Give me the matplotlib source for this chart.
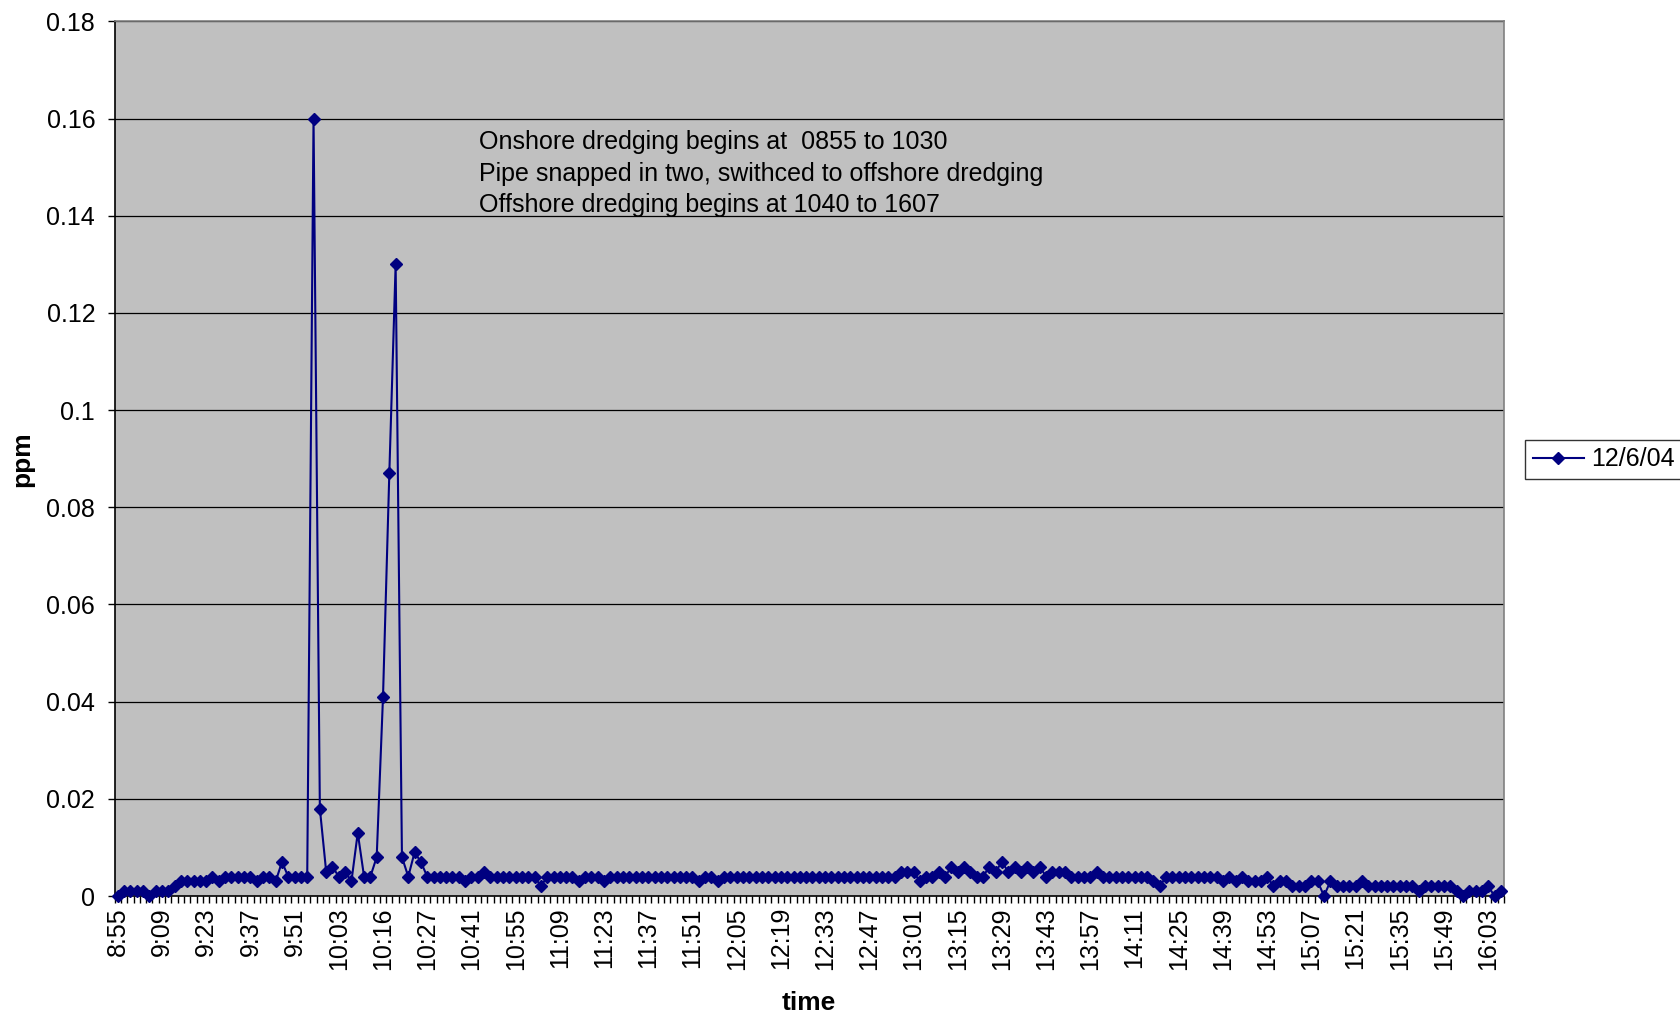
import matplotlib
matplotlib.use("Agg")
import matplotlib.pyplot as plt
import numpy as np

plt.rcParams['font.family'] = ['Liberation Sans', 'DejaVu Sans']

# Category tick labels (one label every 7 samples)
tick_labels = ["8:55", "9:09", "9:23", "9:37", "9:51", "10:03", "10:16", "10:27",
               "10:41", "10:55", "11:09", "11:23", "11:37", "11:51", "12:05", "12:19",
               "12:33", "12:47", "13:01", "13:15", "13:29", "13:43", "13:57", "14:11",
               "14:25", "14:39", "14:53", "15:07", "15:21", "15:35", "15:49", "16:03"]
label_step = 7

# ppm readings, 12/6/04
ppm = [
    0, 0.001, 0.001, 0.001, 0.001, 0, 0.001, 0.001, 0.001, 0.002,
    0.003, 0.003, 0.003, 0.003, 0.003, 0.004, 0.003, 0.004, 0.004, 0.004,
    0.004, 0.004, 0.003, 0.004, 0.004, 0.003, 0.007, 0.004, 0.004, 0.004,
    0.004, 0.16, 0.018, 0.005, 0.006, 0.004, 0.005, 0.003, 0.013, 0.004,
    0.004, 0.008, 0.041, 0.087, 0.13, 0.008, 0.004, 0.009, 0.007, 0.004,
    0.004, 0.004, 0.004, 0.004, 0.004, 0.003, 0.004, 0.004, 0.005, 0.004,
    0.004, 0.004, 0.004, 0.004, 0.004, 0.004, 0.004, 0.002, 0.004, 0.004,
    0.004, 0.004, 0.004, 0.003, 0.004, 0.004, 0.004, 0.003, 0.004, 0.004,
    0.004, 0.004, 0.004, 0.004, 0.004, 0.004, 0.004, 0.004, 0.004, 0.004,
    0.004, 0.004, 0.003, 0.004, 0.004, 0.003, 0.004, 0.004, 0.004, 0.004,
    0.004, 0.004, 0.004, 0.004, 0.004, 0.004, 0.004, 0.004, 0.004, 0.004,
    0.004, 0.004, 0.004, 0.004, 0.004, 0.004, 0.004, 0.004, 0.004, 0.004,
    0.004, 0.004, 0.004, 0.004, 0.005, 0.005, 0.005, 0.003, 0.004, 0.004,
    0.005, 0.004, 0.006, 0.005, 0.006, 0.005, 0.004, 0.004, 0.006, 0.005,
    0.007, 0.005, 0.006, 0.005, 0.006, 0.005, 0.006, 0.004, 0.005, 0.005,
    0.005, 0.004, 0.004, 0.004, 0.004, 0.005, 0.004, 0.004, 0.004, 0.004,
    0.004, 0.004, 0.004, 0.004, 0.003, 0.002, 0.004, 0.004, 0.004, 0.004,
    0.004, 0.004, 0.004, 0.004, 0.004, 0.003, 0.004, 0.003, 0.004, 0.003,
    0.003, 0.003, 0.004, 0.002, 0.003, 0.003, 0.002, 0.002, 0.002, 0.003,
    0.003, 0, 0.003, 0.002, 0.002, 0.002, 0.002, 0.003, 0.002, 0.002,
    0.002, 0.002, 0.002, 0.002, 0.002, 0.002, 0.001, 0.002, 0.002, 0.002,
    0.002, 0.002, 0.001, 0, 0.001, 0.001, 0.001, 0.002, 0, 0.001,
]

series_name = "12/6/04"
note_lines = ["Onshore dredging begins at  0855 to 1030",
              "Pipe snapped in two, swithced to offshore dredging",
              "Offshore dredging begins at 1040 to 1607"]

FS = 18
W, H = 1680, 1014
fig = plt.figure(figsize=(W / 100, H / 100), dpi=100)
fig.patch.set_facecolor("white")

left, right, top, bottom = 114.6, 1504, 21.4, 896
ax = fig.add_axes([left / W, 1 - bottom / H, (right - left) / W, (bottom - top) / H])
ax.set_facecolor("#C0C0C0")

n = len(ppm)
x = np.arange(n)
navy = "#000080"
ax.plot(x, ppm, color=navy, lw=1.5, marker="D", ms=6.6, mec=navy, mfc=navy,
        label=series_name, zorder=3, clip_on=False)

ax.set_xlim(-0.5, n - 0.5)
ax.set_ylim(0, 0.18)

yt = np.round(np.arange(0, 0.181, 0.02), 2)
ax.set_yticks(yt)
ax.set_yticklabels(["0" if v == 0 else f"{v:g}" for v in yt])
for v in yt[1:]:
    ax.axhline(v, color="black", lw=0.9, zorder=1)

ax.set_xticks(np.arange(0, n, label_step)[:len(tick_labels)])
ax.set_xticklabels(tick_labels, rotation=90, va="top", ha="center")
ax.set_xticks(np.arange(-0.5, n, 1), minor=True)
ax.tick_params(axis="x", which="major", length=0, pad=8, labelsize=FS)
ax.tick_params(axis="x", which="minor", length=5, width=1, direction="out", color="black")
ax.tick_params(axis="y", which="major", length=5, width=1, direction="out", pad=9, labelsize=FS)

for s in ["top", "right"]:
    ax.spines[s].set_color("#808080")
    ax.spines[s].set_linewidth(1.2)
for s in ["left", "bottom"]:
    ax.spines[s].set_color("black")
    ax.spines[s].set_linewidth(1.2)

fig.text(809 / W, 1 - 1003 / H, "time", ha="center", va="center",
         fontsize=FS + 1, fontweight="bold")
fig.text(22 / W, 1 - 459 / H, "ppm", ha="center", va="center", rotation=90,
         fontsize=FS + 1, fontweight="bold")

fig.text(479 / W, 1 - 130.5 / H, "\n".join(note_lines), ha="left", va="top",
         fontsize=FS, linespacing=1.37)

leg = fig.legend(loc="center left", bbox_to_anchor=(1525 / W, 1 - 459.5 / H),
                 frameon=True, fancybox=False, fontsize=FS, handlelength=2.05,
                 handletextpad=0.28, borderpad=0.3, borderaxespad=0)
leg.get_frame().set_edgecolor("black")
leg.get_frame().set_linewidth(1.0)

fig.savefig("out.png", dpi=100, facecolor="white")
